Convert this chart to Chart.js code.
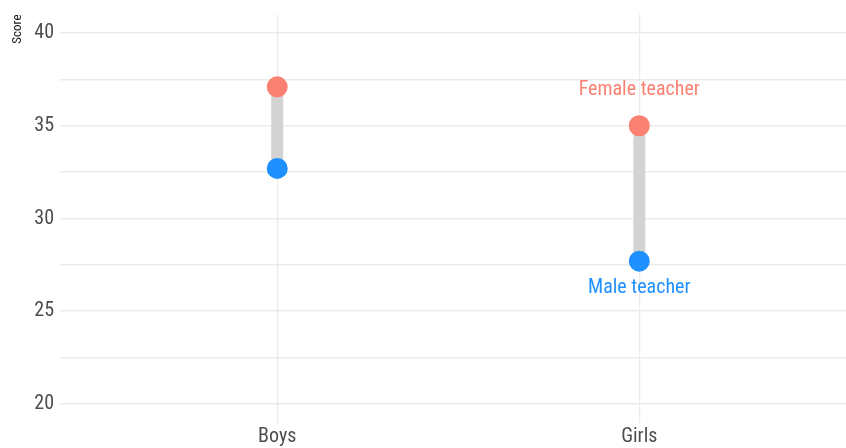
<!DOCTYPE html>
<html>
<head>
<meta charset="utf-8">
<script src="https://cdn.jsdelivr.net/npm/chart.js@4"></script>
<style>
  html, body { margin: 0; padding: 0; background: #fff; overflow: hidden; }
</style>
</head>
<body>
<canvas id="dumbbell" width="846" height="448"></canvas>
<script>
  const categories = ['Boys', 'Girls'];
  const femaleScores = [37.1, 35.0];
  const maleScores = [32.7, 27.7];
  const yTicks = [20, 25, 30, 35, 40];

  const FEMALE = '#FA8072';
  const MALE = '#1E90FF';
  const FONT = '"Roboto Condensed", "Roboto", sans-serif';

  const segments = categories.map((c, i) => ({
    label: c + ' gap',
    type: 'line',
    data: [{ x: i, y: maleScores[i] }, { x: i, y: femaleScores[i] }],
    borderColor: '#d3d3d3',
    borderWidth: 12,
    pointRadius: 0,
    order: 3
  }));

  // labels next to the Girls points
  const pointLabels = {
    id: 'pointLabels',
    afterDatasetsDraw(chart) {
      const { ctx, scales } = chart;
      const i = categories.length - 1;
      const x = scales.x.getPixelForValue(i);
      ctx.save();
      ctx.font = '20px ' + FONT;
      ctx.textAlign = 'center';
      ctx.textBaseline = 'middle';
      ctx.fillStyle = FEMALE;
      ctx.fillText('Female teacher', x, scales.y.getPixelForValue(femaleScores[i]) - 36);
      ctx.fillStyle = MALE;
      ctx.fillText('Male teacher', x, scales.y.getPixelForValue(maleScores[i]) + 27);
      ctx.restore();
    }
  };

  new Chart(document.getElementById('dumbbell').getContext('2d'), {
    type: 'scatter',
    data: {
      datasets: [
        {
          label: 'Female teacher',
          data: categories.map((c, i) => ({ x: i, y: femaleScores[i] })),
          backgroundColor: FEMALE,
          borderWidth: 0,
          pointRadius: 10.5,
          order: 1
        },
        {
          label: 'Male teacher',
          data: categories.map((c, i) => ({ x: i, y: maleScores[i] })),
          backgroundColor: MALE,
          borderWidth: 0,
          pointRadius: 10.5,
          order: 1
        },
        ...segments
      ]
    },
    options: {
      responsive: false,
      animation: false,
      layout: { autoPadding: false, padding: { top: 14.5, right: 0, left: 10, bottom: 0 } },
      plugins: {
        legend: { display: false },
        tooltip: { enabled: false }
      },
      scales: {
        x: {
          type: 'linear',
          min: -0.6,
          max: 1.571,
          afterBuildTicks: s => { s.ticks = categories.map((c, i) => ({ value: i })); },
          afterFit: s => { s.height = 25.5; s.paddingLeft = 0; s.paddingRight = 0; },
          ticks: {
            callback: v => categories[v],
            color: '#4d4d4d',
            font: { family: FONT, size: 20 },
            padding: 2
          },
          grid: { color: '#ebebeb', lineWidth: 1.2, drawTicks: false },
          border: { display: false }
        },
        y: {
          min: 19,
          max: 41,
          afterBuildTicks: s => {
            const t = [];
            for (let v = 20; v <= 40; v += 2.5) t.push({ value: v });
            s.ticks = t;
          },
          afterFit: s => { s.width = 50; s.paddingTop = 0; s.paddingBottom = 0; },
          ticks: {
            callback: v => (yTicks.includes(v) ? v : ''),
            color: '#4d4d4d',
            font: { family: FONT, size: 20 },
            padding: 6
          },
          grid: { color: '#ebebeb', lineWidth: 1.5, drawTicks: false },
          border: { display: false },
          title: {
            display: true,
            text: 'Score',
            align: 'end',
            color: '#1a1a1a',
            font: { family: FONT, size: 13 },
            padding: { top: 0, bottom: 0 }
          }
        }
      }
    },
    plugins: [pointLabels]
  });
</script>
</body>
</html>
